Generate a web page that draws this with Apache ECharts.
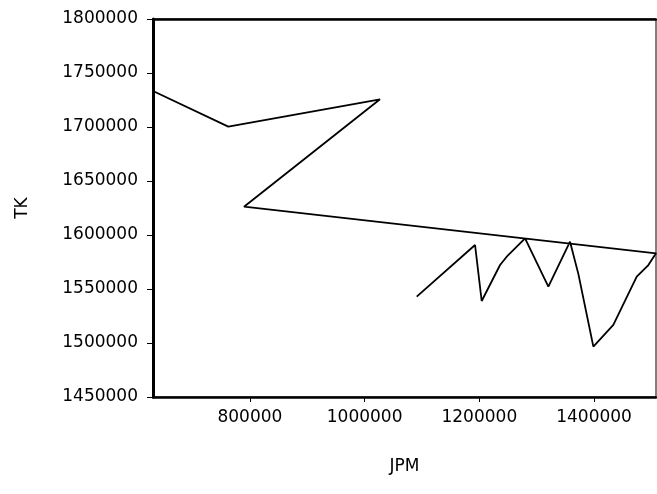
<!DOCTYPE html>
<html>
<head>
<meta charset="utf-8">
<script src="https://cdn.jsdelivr.net/npm/echarts@6/dist/echarts.min.js"></script>
<style>
html,body{margin:0;padding:0;background:#fff;}
#chart{width:657px;height:494px;}
</style>
</head>
<body>
<div id="chart"></div>
<script>
// Data (points in drawing order)
var jpm = [631000, 762300, 1026800, 789700, 1508000, 1494700, 1474400, 1433600, 1398800,
           1372600, 1358100, 1320300, 1279700, 1247700, 1236100, 1204100, 1192500, 1090800];
var tk  = [1733300, 1700300, 1725650, 1626200, 1583050, 1572200, 1561400, 1516700, 1496600,
           1564000, 1593800, 1552150, 1596950, 1579900, 1572200, 1538900, 1590750, 1542900];
var xTicks = [800000, 1000000, 1200000, 1400000];
var yMin = 1450000, yMax = 1800000, yStep = 50000;
var xMin = 631000, xMax = 1508000;
var xName = 'JPM', yName = 'TK';

var points = jpm.map(function (v, i) { return [v, tk[i]]; });
var font = 'DejaVu Sans';
var plain = function (v) { return String(v); };

var chart = echarts.init(document.getElementById('chart'), null, {renderer: 'canvas'});
chart.setOption({
  animation: false,
  backgroundColor: '#fff',
  grid: {left: 153, right: 1, top: 19, bottom: 97, show: true, borderColor: '#000', borderWidth: 1, containLabel: false},
  xAxis: [{
    type: 'value', min: xMin, max: xMax, position: 'bottom',
    name: xName, nameLocation: 'middle', nameGap: 61,
    nameTextStyle: {fontFamily: font, fontSize: 17, color: '#000'},
    axisLine: {show: true, lineStyle: {color: '#000', width: 2.5}},
    axisTick: {show: true, length: 5, lineStyle: {color: '#000', width: 1}, customValues: xTicks},
    axisLabel: {fontFamily: font, fontSize: 17, color: '#000', margin: 12, customValues: xTicks, formatter: plain},
    splitLine: {show: false}
  }, {
    type: 'value', min: xMin, max: xMax, position: 'top',
    axisLine: {show: true, lineStyle: {color: '#000', width: 2.5}},
    axisTick: {show: false}, axisLabel: {show: false}, splitLine: {show: false}
  }],
  yAxis: {
    type: 'value', min: yMin, max: yMax, interval: yStep,
    name: yName, nameLocation: 'middle', nameGap: 122, nameRotate: 90,
    nameTextStyle: {fontFamily: font, fontSize: 17, color: '#000'},
    axisLine: {show: true, lineStyle: {color: '#000', width: 3}},
    axisTick: {show: true, length: 6, lineStyle: {color: '#000', width: 1}},
    axisLabel: {fontFamily: font, fontSize: 17, color: '#000', margin: 15, formatter: plain},
    splitLine: {show: false}
  },
  series: [{
    type: 'line', data: points, showSymbol: false, symbol: 'none',
    lineStyle: {color: '#000', width: 1.8}, xAxisIndex: 0
  }]
});
</script>
</body>
</html>
